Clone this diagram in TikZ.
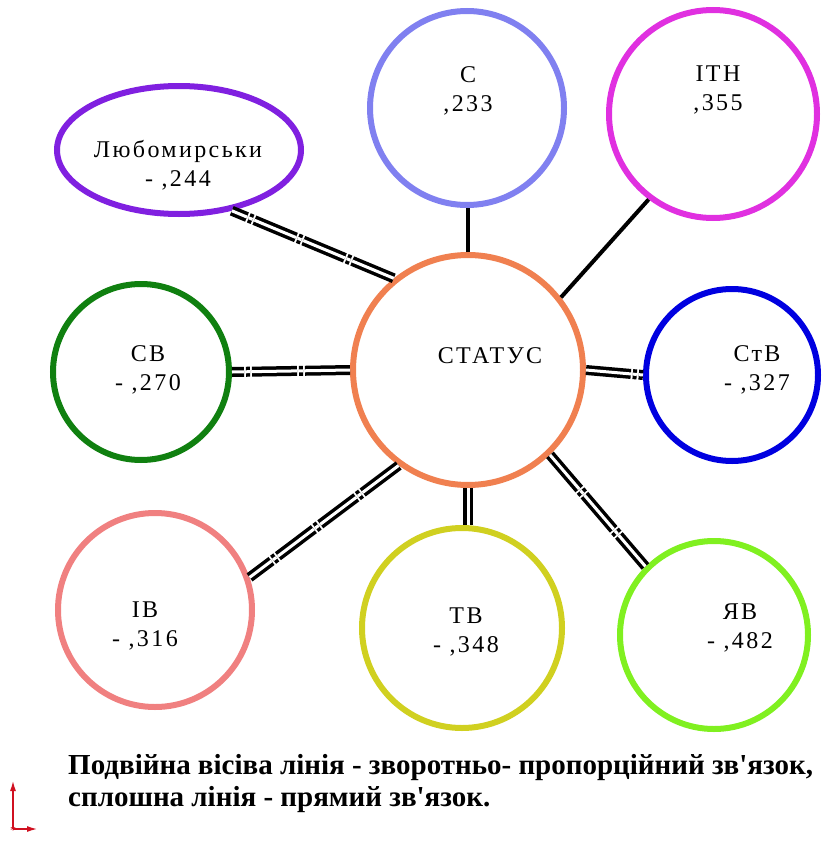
\documentclass[tikz,border=0pt]{standalone}
\usepackage{fontspec}
\setmainfont{Liberation Serif}
\newfontfamily\labelfont[LetterSpace=10]{Liberation Serif}
\usetikzlibrary{shapes.geometric,arrows.meta}
\definecolor{statcol}{RGB}{240,128,80}
\definecolor{ccol}{RGB}{128,128,240}
\definecolor{itncol}{RGB}{224,48,224}
\definecolor{lyucol}{RGB}{128,32,224}
\definecolor{svcol}{RGB}{16,128,16}
\definecolor{stvcol}{RGB}{0,0,224}
\definecolor{ivcol}{RGB}{240,128,128}
\definecolor{tvcol}{RGB}{208,208,32}
\definecolor{yavcol}{RGB}{128,240,32}
\definecolor{axcol}{RGB}{208,16,32}
\begin{document}
\begin{tikzpicture}[x=1pt,y=-1pt,
    ring/.style={draw=#1,circle,line width=6pt,inner sep=0pt},
    txt/.style={font=\labelfont\fontsize{24}{29}\selectfont,align=center},
    directlink/.style={line width=4pt},
    inverselink/.style={double,double distance=3pt,line width=3.5pt,dash pattern=on 45pt off 2pt on 4pt off 2pt}]
			\useasboundingbox (0,0) rectangle (825,843);
			% circles
			\node[ring=statcol,minimum size=230pt] (stat) at (468,370) {};
			\node[ring=ccol,minimum size=194pt] (c) at (467,108) {};
			\node[ring=itncol,minimum size=208pt] (itn) at (713,114) {};
			\node[ring=lyucol,ellipse,minimum width=244pt,minimum height=128pt] (lyu) at (179,150) {};
			\node[ring=svcol,minimum size=176pt] (sv) at (141,372) {};
			\node[ring=stvcol,minimum size=172pt] (stv) at (732,375) {};
			\node[ring=ivcol,minimum size=194pt] (iv) at (155,610) {};
			\node[ring=tvcol,minimum size=200pt] (tv) at (462,628) {};
			\node[ring=yavcol,minimum size=188pt] (yav) at (714,635) {};
			% texts
			\node[txt] (stattxt) at (490,356) {СТАТУС};
			\node[txt] (ctxt) at (468,91) {С\\,233};
			\node[txt] (itntxt) at (718,90) {ІТН\\,355};
			\node[txt] (lyutxt) at (178,165) {Любомирськи\\- ,244};
			\node[txt] (svtxt) at (148,370) {СВ\\- ,270};
			\node[txt] (stvtxt) at (757,370) {СтВ\\- ,327};
			\node[txt] (ivtxt) at (145,626) {ІВ\\- ,316};
			\node[txt] (tvtxt) at (466,632) {ТВ\\- ,348};
			\node[txt] (yavtxt) at (740,628) {ЯВ\\- ,482};
			% links
			\draw[directlink] (stat.north) -- (stat.north |- c.south);
			\draw[directlink] (stat.38) -- (itn.233);
			\draw[inverselink] (stat.129) -- (lyu.-49);
			\draw[inverselink] (stat.180) -- (sv.0);
			\draw[inverselink] (stat.0) -- (stv.180);
			\draw[inverselink] (stat.234) -- (iv.19);
			\draw[inverselink] (stat.south) -- (stat.south |- tv.north);
			\draw[inverselink] (stat.-46) -- (yav.135);
			% legend
			\node[anchor=west,align=left,inner sep=0pt,font=\bfseries\fontsize{29}{32}\selectfont] (legend) at (68,784)
				{Подвійна вісіва лінія - зворотньо- пропорційний зв\textquotesingle язок,\\
				 сплошна лінія - прямий зв\textquotesingle язок.};
			\coordinate (o) at (13,829);
			\draw[axcol,line width=1.2pt,-{Latex[length=10pt,width=6pt]}] (o) -- (13,781);
			\draw[axcol,line width=1.2pt,-{Latex[length=10pt,width=6pt]}] (o) -- (37,829);
			\node[axcol,font=\large,inner sep=0pt] (ostar) at (13,831) {*};
		\end{tikzpicture}
\end{document}
